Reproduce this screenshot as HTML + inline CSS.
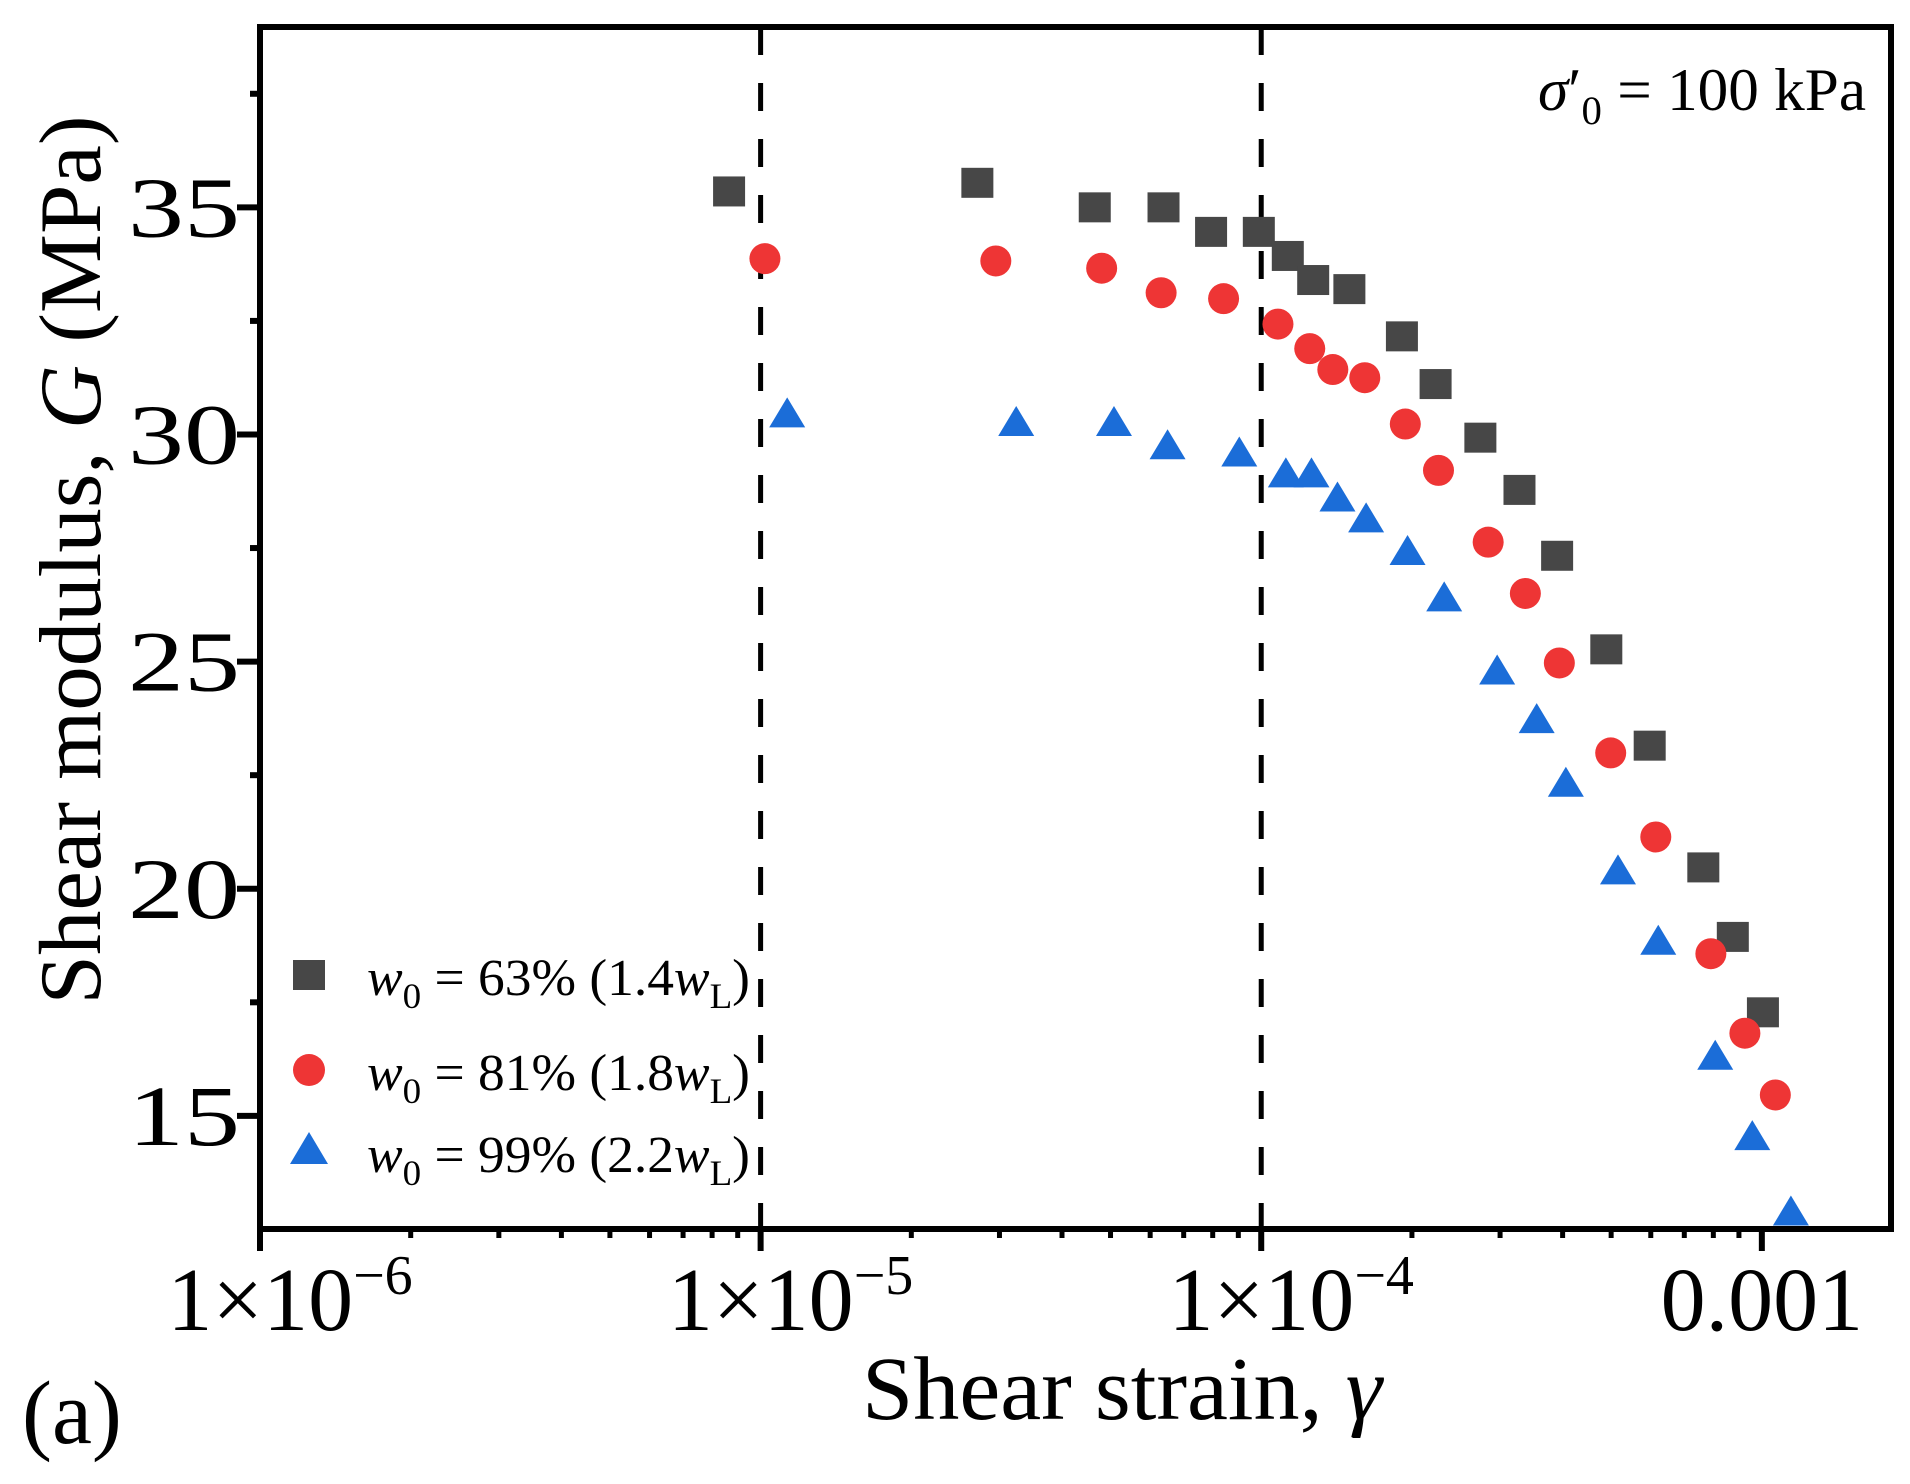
<!DOCTYPE html>
<html><head><meta charset="utf-8"><style>
html,body{margin:0;padding:0;background:#fff;}
svg{display:block;font-family:"Liberation Serif",serif;}
</style></head><body>
<svg id="chart" width="1910" height="1484" viewBox="0 0 1910 1484" xmlns="http://www.w3.org/2000/svg">
<g id="grid"></g><g id="marks"></g><g id="axes"></g><g id="labels"></g>
</svg>
<script>
// ---- data ----
const strainBlack = [8.65e-6,2.71e-5,4.65e-5,6.38e-5,7.94e-5,9.89e-5,1.13e-4,1.27e-4,1.50e-4,1.91e-4,2.23e-4,2.74e-4,3.28e-4,3.90e-4,4.89e-4,5.97e-4,7.64e-4,8.75e-4,1.005e-3];
const gBlack = [35.35,35.54,35.0,35.0,34.46,34.46,33.93,33.4,33.2,32.16,31.11,29.93,28.78,27.33,25.27,23.15,20.47,18.94,17.28];
const strainRed = [1.02e-5,2.95e-5,4.80e-5,6.31e-5,8.41e-5,1.08e-4,1.25e-4,1.39e-4,1.61e-4,1.94e-4,2.26e-4,2.84e-4,3.37e-4,3.94e-4,4.99e-4,6.14e-4,7.91e-4,9.25e-4,1.064e-3];
const gRed = [33.87,33.82,33.66,33.12,32.99,32.43,31.89,31.43,31.25,30.23,29.21,27.63,26.50,24.97,22.99,21.14,18.57,16.82,15.46];
const strainBlue = [1.13e-5,3.24e-5,5.08e-5,6.50e-5,9.04e-5,1.12e-4,1.26e-4,1.42e-4,1.62e-4,1.96e-4,2.32e-4,2.96e-4,3.55e-4,4.06e-4,5.16e-4,6.21e-4,8.07e-4,9.57e-4,1.143e-3];
const gBlue = [30.42,30.23,30.23,29.72,29.56,29.10,29.10,28.57,28.11,27.39,26.37,24.76,23.69,22.29,20.36,18.81,16.28,14.51,12.85];
const xTickValues = [1e-6,1e-5,1e-4,1e-3];
const xTickBase = ["1×10","1×10","1×10","0.001"];
const xTickExp = ["−6","−5","−4",""];
const yTickValues = [15,20,25,30,35];
const yTickLabels = ["15","20","25","30","35"];
const refLines = [1e-5,1e-4];

// ---- scales ----
const L=260,R=1891,T=27,B=1229;
const XMIN=-6, XMAX=-2.742, YMIN=12.51, YMAX=38.97;
const xs=v=>L+(Math.log10(v)-XMIN)/(XMAX-XMIN)*(R-L);
const ys=v=>B-(v-YMIN)/(YMAX-YMIN)*(B-T);
const NS="http://www.w3.org/2000/svg";
function mk(tag,attrs,parent){const e=document.createElementNS(NS,tag);for(const k in attrs)e.setAttribute(k,attrs[k]);parent.appendChild(e);return e;}
const grid=document.getElementById('grid'),marks=document.getElementById('marks'),axes=document.getElementById('axes'),labels=document.getElementById('labels');

refLines.forEach(v=>{
  const l=mk('line',{x1:xs(v),x2:xs(v),y1:T,y2:B,stroke:'#000','stroke-width':5,'stroke-dasharray':'28 28'},grid);
  
  
});

function square(cx,cy,g){return mk('rect',{x:cx-16,y:cy-15,width:32,height:30,fill:'#474747'},g);}
function circle(cx,cy,g){return mk('circle',{cx:cx,cy:cy,r:15.5,fill:'#ee3535'},g);}
function tri(cx,cy,g){return mk('polygon',{points:`${cx-18},${cy+12} ${cx+18},${cy+12} ${cx},${cy-18}`,fill:'#1b6dd8'},g);}
const gs1=mk('g',{},marks);
const gs2=mk('g',{},marks);
const gs3=mk('g',{},marks);
strainBlack.forEach((s,i)=>{const e=square(xs(s),ys(gBlack[i]),gs1);
  
  });
strainRed.forEach((s,i)=>{const e=circle(xs(s),ys(gRed[i]),gs2);
  
  });
strainBlue.forEach((s,i)=>{const e=tri(xs(s),ys(gBlue[i]),gs3);
  
  });

const frame=mk('rect',{x:L,y:T,width:R-L,height:B-T,fill:'none',stroke:'#000','stroke-width':6},axes);



for(let d=-6;d<=-3;d++){
  for(let m=1;m<10;m++){
    const v=m*Math.pow(10,d); if(Math.log10(v)>XMAX) break;
    const x=xs(v); const major=(m===1);
    const t=mk('line',{x1:x,x2:x,y1:B,y2:B+(major?22:9),stroke:'#000','stroke-width':major?6:5},axes);
    
    
  }
}
xTickValues.forEach((v,i)=>{
  const t=mk('text',{x:xs(v)+(xTickExp[i]?30:0),y:1330,'font-size':90,'text-anchor':'middle',fill:'#000'},labels);
  
  
  t.appendChild(document.createTextNode(xTickBase[i]));
  if(xTickExp[i]){const s=mk('tspan',{'font-size':56,dy:-36},t);s.textContent=xTickExp[i];}
});

for(let v=15;v<=37.5;v+=2.5){
  const major=(v%5===0); const y=ys(v);
  const t=mk('line',{x1:L,x2:L-(major?23:10),y1:y,y2:y,stroke:'#000','stroke-width':6},axes);
  
  
}
yTickValues.forEach((v,i)=>{
  const t=mk('text',{x:240,y:ys(v)+29,'font-size':86,'text-anchor':'end',fill:'#000',textLength:112,lengthAdjust:'spacingAndGlyphs'},labels);
  
  
  t.textContent=yTickLabels[i];
});
</script>
<svg style="position:absolute;left:0;top:0" width="1910" height="1484" viewBox="0 0 1910 1484" font-family="Liberation Serif, serif">
<text transform="translate(100,560) rotate(-90)" text-anchor="middle" font-size="88" textLength="889" lengthAdjust="spacingAndGlyphs">Shear modulus, <tspan font-style="italic">G</tspan> (MPa)</text>
<text x="862" y="1419" font-size="90" textLength="520" lengthAdjust="spacingAndGlyphs">Shear strain, <tspan font-style="italic">γ</tspan></text>
<text x="22" y="1443" font-size="90">(a)</text>
<text x="1538" y="110" font-size="60" textLength="328" lengthAdjust="spacingAndGlyphs"><tspan font-style="italic">σ</tspan>′<tspan font-size="40" dy="14">0</tspan><tspan dy="-14"> = 100 kPa</tspan></text>
<g font-size="52">
  <rect x="293" y="960" width="32" height="30" fill="#474747"/>
  <text x="367" y="995" textLength="383" lengthAdjust="spacingAndGlyphs"><tspan font-style="italic">w</tspan><tspan font-size="36" dy="13">0</tspan><tspan dy="-13"> = 63% (1.4</tspan><tspan font-style="italic">w</tspan><tspan font-size="36" dy="13">L</tspan><tspan dy="-13">)</tspan></text>
  <circle cx="309" cy="1070" r="16" fill="#ee3535"/>
  <text x="367" y="1090" textLength="383" lengthAdjust="spacingAndGlyphs"><tspan font-style="italic">w</tspan><tspan font-size="36" dy="13">0</tspan><tspan dy="-13"> = 81% (1.8</tspan><tspan font-style="italic">w</tspan><tspan font-size="36" dy="13">L</tspan><tspan dy="-13">)</tspan></text>
  <polygon points="290,1164 328,1164 309,1132" fill="#1b6dd8"/>
  <text x="367" y="1172" textLength="383" lengthAdjust="spacingAndGlyphs"><tspan font-style="italic">w</tspan><tspan font-size="36" dy="13">0</tspan><tspan dy="-13"> = 99% (2.2</tspan><tspan font-style="italic">w</tspan><tspan font-size="36" dy="13">L</tspan><tspan dy="-13">)</tspan></text>
</g>
</svg>
</body></html>
